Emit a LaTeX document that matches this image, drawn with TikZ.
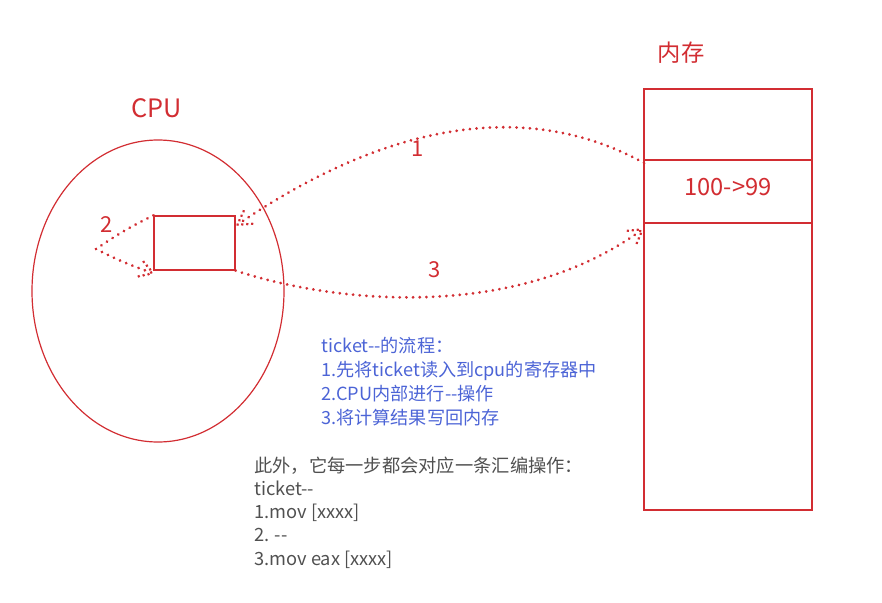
\documentclass[tikz,border=0pt]{standalone}
\usepackage{fontspec}
\newfontfamily\cjk{Noto Sans CJK SC}
\usetikzlibrary{shapes.geometric,decorations.markings}
\definecolor{sred}{RGB}{210,45,50}
\definecolor{sblue}{RGB}{76,100,214}
\definecolor{sgray}{RGB}{80,80,80}
\tikzset{
  box/.style={draw=sred, line width=0.9pt, inner sep=0pt},
  lbl/.style={font=\cjk\fontsize{16.5}{18}\selectfont, text=sred, inner sep=0pt},
  dotline/.style={postaction={decorate, decoration={markings,
     mark=between positions 0 and 1 step 5pt with {\fill[sred] (0,0) circle (1.15pt);}}}},
  dothead/.style={postaction={decorate, decoration={markings, mark=at position 0.999 with {
     \foreach \k in {1,2,3}{
       \fill[sred] ({-\k*3.2pt},{\k*1.9pt}) circle (1.15pt);
       \fill[sred] ({-\k*3.2pt},{-\k*1.9pt}) circle (1.15pt);}}}}}
}
\begin{document}
\begin{tikzpicture}[x=0.75pt,y=-0.75pt]
\useasboundingbox (0,0) rectangle (882,603);
% CPU
\node[lbl, font=\cjk\fontsize{19}{22}\selectfont] (cpulbl) at (157,108) {CPU};
\node[draw=sred, line width=0.9pt, ellipse, minimum width=189pt, minimum height=226.5pt, inner sep=0pt] (cpu) at (158,291) {};
\node[box, minimum width=60.75pt, minimum height=40.5pt] (reg) at (194.5,243) {};
\node[lbl] (n2) at (107,225) {2};
% memory
\node[lbl, font=\cjk\fontsize{17.5}{20}\selectfont] (memlbl) at (681,53) {内存};
\node[box, minimum width=126pt, minimum height=315.75pt] (mem) at (728,299.5) {};
\node[box, minimum width=126pt, minimum height=47.25pt] (cell) at (728,191.5) {};
\node[lbl, font=\cjk\fontsize{17.8}{20}\selectfont] (val) at (728,187) {100->99};
% anchor coordinates
\coordinate (a1s) at (644,163);
\coordinate (a1e) at (237,225);
\coordinate (a3e) at (643,229);
\coordinate (c2) at (96,249);
% arrows
\path[dotline, dothead] (a1s) .. controls (530,100) and (390,120) .. (a1e);
\node[lbl] (n1) at (418,149) {1};
\path[dotline, dothead] (reg.south east) .. controls (340,305) and (520,320) .. (a3e);
\node[lbl] (n3) at (435,270) {3};
\path[dotline] (reg.north west) to[bend right=4] (c2);
\path[dotline, dothead] (c2) to[bend right=4] ([yshift=-2pt]reg.south west);
% texts
\node[anchor=north west, align=left, inner sep=0pt, text=sblue, font=\cjk\fontsize{13.6}{18}\selectfont] (flow) at (321,337) {ticket--的流程：\\1.先将ticket读入到cpu的寄存器中\\2.CPU内部进行--操作\\3.将计算结果写回内存};
\node[anchor=north west, align=left, inner sep=0pt, text=sgray, font=\cjk\fontsize{13.7}{17.3}\selectfont] (asm) at (254,457) {此外，它每一步都会对应一条汇编操作：\\ticket--\\1.mov [xxxx]\\2. --\\3.mov eax [xxxx]};
\end{tikzpicture}
\end{document}
